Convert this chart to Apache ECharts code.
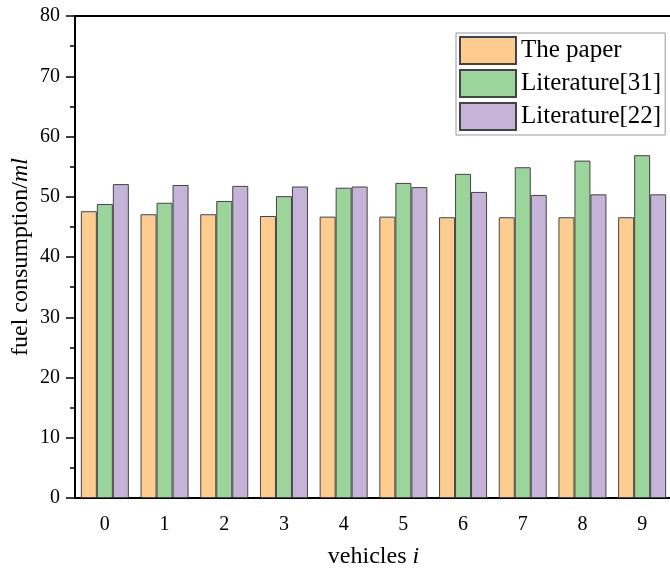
<!DOCTYPE html>
<html>
<head>
<meta charset="utf-8">
<script src="https://cdn.jsdelivr.net/npm/echarts@6/dist/echarts.min.js"></script>
<style>html,body{margin:0;padding:0;background:#fff}#c{width:670px;height:574px}</style>
</head>
<body>
<div id="c"></div>
<script>
var categories = ['0','1','2','3','4','5','6','7','8','9'];
var seriesNames = ['The paper','Literature[31]','Literature[22]'];
var paperVals = [47.6, 47.1, 47.1, 46.8, 46.7, 46.7, 46.6, 46.6, 46.6, 46.6];
var lit31Vals = [48.8, 49.0, 49.3, 50.1, 51.5, 52.3, 53.8, 54.9, 56.0, 56.9];
var lit22Vals = [52.1, 51.95, 51.8, 51.7, 51.7, 51.6, 50.8, 50.3, 50.4, 50.4];
var colors = ['#FFCC90', '#9BD59B', '#C5B3D8'];
var FONT = "'Liberation Serif','Times New Roman',serif";

var chart = echarts.init(document.getElementById('c'), null, {renderer:'canvas'});
function bar(name, data, color) {
  return {
    name: name, type: 'bar', data: data, xAxisIndex: 0,
    barWidth: 16, barGap: '0%',
    itemStyle: {color: color, borderColor: '#444', borderWidth: 1}
  };
}
chart.setOption({
  animation: false,
  textStyle: {fontFamily: FONT},
  grid: {left: 75, top: 16, width: 597, bottom: 76, containLabel: false, outerBoundsMode: 'none',
         show: true, borderColor: '#000', borderWidth: 2, backgroundColor: 'transparent'},
  legend: {
    orient: 'vertical', left: 456, top: 33,
    icon: 'rect',
    itemWidth: 56, itemHeight: 27, itemGap: 4,
    padding: [3, 4, 4, 3],
    borderColor: '#999', borderWidth: 1,
    textStyle: {fontFamily: FONT, fontSize: 25, color: '#000', padding: [0,0,0,0]},
    data: seriesNames
  },
  xAxis: [{
    type: 'category', data: categories,
    axisLine: {lineStyle: {color: '#000', width: 2}},
    axisTick: {alignWithLabel: true, length: 9, lineStyle: {width: 1.5, color: '#000'}},
    axisLabel: {color: '#000', fontSize: 20, fontFamily: FONT, margin: 17},
    name: '{n|vehicles }{i|i}', nameLocation: 'middle', nameGap: 47, nameMoveOverlap: false,
    nameTextStyle: {rich: {
      n: {fontFamily: FONT, fontSize: 24, color: '#000'},
      i: {fontFamily: FONT, fontSize: 24, fontStyle: 'italic', color: '#000'}
    }}
  }, {
    type: 'category', data: categories, position: 'bottom',
    axisLine: {show: false},
    axisTick: {length: 4, lineStyle: {width: 1.5, color: '#000'}},
    axisLabel: {show: false}
  }],
  yAxis: {
    type: 'value', min: 0, max: 80, interval: 10,
    axisLine: {show: true, lineStyle: {color: '#000', width: 2}},
    axisTick: {show: true, length: 9, lineStyle: {width: 1.5, color: '#000'}},
    minorTick: {show: true, splitNumber: 2, length: 5, lineStyle: {width: 1.5, color: '#000'}},
    splitLine: {show: false},
    axisLabel: {color: '#000', fontSize: 20, fontFamily: FONT, margin: 15},
    name: '{n|fuel consumption/}{i|ml}', nameLocation: 'middle', nameGap: 42, nameRotate: 90,
    nameMoveOverlap: false,
    nameTextStyle: {rich: {
      n: {fontFamily: FONT, fontSize: 24, color: '#000'},
      i: {fontFamily: FONT, fontSize: 24, fontStyle: 'italic', color: '#000'}
    }}
  },
  series: [
    bar(seriesNames[0], paperVals, colors[0]),
    bar(seriesNames[1], lit31Vals, colors[1]),
    bar(seriesNames[2], lit22Vals, colors[2])
  ]
});
</script>
</body>
</html>
